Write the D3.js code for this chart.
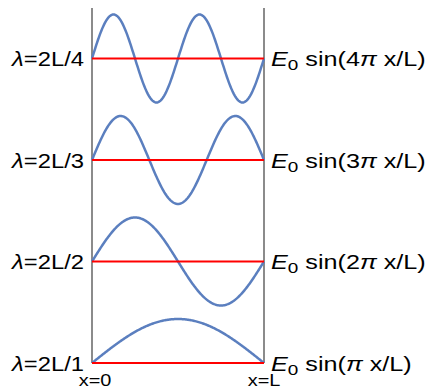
<!DOCTYPE html>
<html>
<head>
<meta charset="utf-8">
<script src="https://cdn.jsdelivr.net/npm/d3@7"></script>
<style>
  body { margin: 0; background: #fff; }
  svg { display: block; font-family: "Liberation Sans", Arial, sans-serif; }
</style>
</head>
<body>
<div class="holder"></div>
<script>
// mode numbers, top row first
var modes = [4, 3, 2, 1];
var leftLabels = ["2L/4", "2L/3", "2L/2", "2L/1"];
var rightFactors = ["4", "3", "2", ""];
var endLabels = ["x=0", "x=L"];
var xDomain = [0, 1];

var width = 429, height = 387;
var fontSize = 20;

var chart = d3.select(".holder")
  .append("svg")
  .attr("width", width)
  .attr("height", height);

var x = d3.scaleLinear().domain(xDomain).range([92, 264]);
var row = d3.scalePoint().domain(modes).range([58.5, 363]);
var amp = d3.scaleLinear().domain([-1, 1]).range([44, -44]);

// text in the source is drawn a bit wide
function place(px, py, sx) {
  return "translate(" + px + "," + py + ") scale(" + sx + ",1)";
}

// the two walls
chart.selectAll("line.wall")
  .data(xDomain)
  .enter().append("line")
  .attr("class", "wall")
  .attr("x1", function(d) { return x(d); })
  .attr("x2", function(d) { return x(d); })
  .attr("y1", 8)
  .attr("y2", row(1))
  .style("stroke", "#6e6e6e")
  .style("stroke-width", 1.6);

// standing waves, sampled along x
var samples = d3.range(0, 1.0001, 0.005);
var line = d3.line()
  .curve(d3.curveLinear);

modes.forEach(function(n) {
  var y0 = row(n);
  chart.append("path")
    .attr("d", line(samples.map(function(t) {
      return [x(t), y0 + amp(Math.sin(n * Math.PI * t))];
    })))
    .style("fill", "none")
    .style("stroke", "#5b7fbf")
    .style("stroke-width", 2.5);

  chart.append("line")
    .attr("x1", x(0))
    .attr("x2", x(1))
    .attr("y1", y0)
    .attr("y2", y0)
    .style("stroke", "#ff0000")
    .style("stroke-width", 2);
});

// left labels
var lt = chart.selectAll("text.left")
  .data(modes)
  .enter().append("text")
  .attr("class", "left")
  .attr("transform", function(d) { return place(84, row(d) + 7.5, 1.19); })
  .attr("text-anchor", "end")
  .style("font-size", fontSize + "px");
lt.append("tspan").style("font-style", "italic").text("\u03bb");
lt.append("tspan").text(function(d, i) { return "=" + leftLabels[i]; });

// right labels
var rt = chart.selectAll("text.right")
  .data(modes)
  .enter().append("text")
  .attr("class", "right")
  .attr("transform", function(d) { return place(271, row(d) + 7.5, 1.26); })
  .style("font-size", fontSize + "px");
rt.append("tspan").style("font-style", "italic").text("E");
rt.append("tspan").attr("dy", 4).style("font-size", "15px").text("0");
rt.append("tspan").attr("dy", -4).text(function(d, i) { return " sin(" + rightFactors[i]; });
rt.append("tspan").style("font-style", "italic").text("\u03c0");
rt.append("tspan").text(" x/L)");

// wall labels
var endShift = [3, 0];
chart.selectAll("text.end")
  .data(xDomain)
  .enter().append("text")
  .attr("class", "end")
  .attr("transform", function(d, i) { return place(x(d) + endShift[i], 386, 1.17); })
  .attr("text-anchor", "middle")
  .style("font-size", "17px")
  .text(function(d, i) { return endLabels[i]; });
</script>
</body>
</html>
